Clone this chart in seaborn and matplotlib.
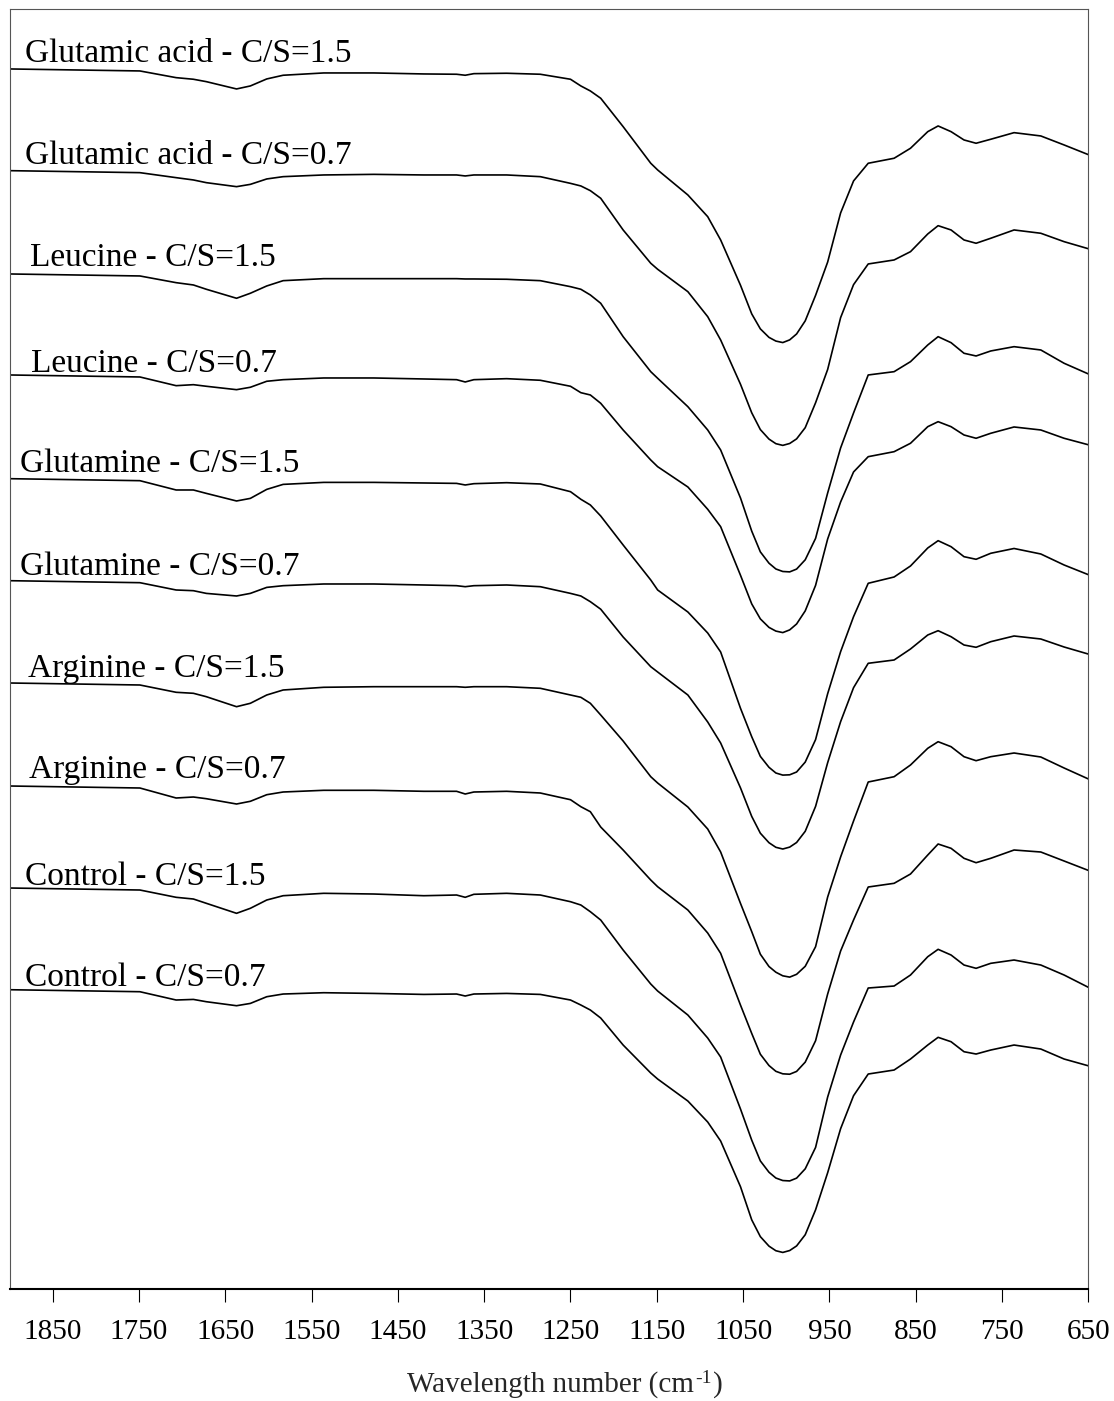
import numpy as np
import pandas as pd
import matplotlib
matplotlib.use("Agg")
import matplotlib.pyplot as plt
import seaborn as sns

# Wavenumber grid (cm-1) shared by all spectra
wavenumber = [1900, 1749, 1707, 1687, 1672, 1637, 1621, 1602, 1583, 1536, 1478, 1420,
              1382, 1372, 1362, 1324, 1285, 1250,
              1238, 1227, 1215, 1189, 1157, 1149, 1114, 1091, 1076,
              1053, 1040, 1030, 1020, 1012, 1004, 996, 988, 978, 966, 952, 937, 922,
              905, 875, 856, 836, 824, 809, 794, 780, 763, 736, 705, 678, 649]

samples = ["Glutamic acid - C/S=1.5", "Glutamic acid - C/S=0.7",
           "Leucine - C/S=1.5", "Leucine - C/S=0.7",
           "Glutamine - C/S=1.5", "Glutamine - C/S=0.7",
           "Arginine - C/S=1.5", "Arginine - C/S=0.7",
           "Control - C/S=1.5", "Control - C/S=0.7"]

# baseline level of each stacked spectrum (a.u.)
baseline = [1218.3, 1116.6, 1013.3, 912.3, 808.6, 706.6, 604.3, 501.3, 399.3, 297.6]

# absorption depth below the baseline (a.u.), one list per spectrum
glu_acid_15 = [-2, 0, 6.7, 8.3, 10.7, 18, 15, 8, 4.3, 2, 2, 3, 3.3, 4.3, 2.7, 2.3, 3.3, 8.3,
               15, 20, 27.3, 55.7, 92.3, 99, 124, 145.7, 169,
               214.3, 242.9, 257.9, 266.4, 270.1, 271.6, 268.9, 263, 249.9, 224.4, 191.1, 142, 110,
               92.3, 87.3, 77.3, 60.7, 55, 60.7, 69, 72.3, 68.3, 61.7, 65, 74, 84]
glu_acid_07 = [-2, 0, 5, 7.3, 10, 14, 11.7, 6.3, 4, 2.3, 1.7, 2.3, 2.3, 3.3, 2.3, 2.3, 4, 10.7,
               13.3, 18, 25.6, 57.3, 90.6, 96.6, 119, 144, 167.3,
               211.6, 240.1, 256.9, 266.4, 271, 272.7, 270.8, 266.2, 255, 230.1, 196.8, 145, 112,
               91.3, 87.3, 79, 61.3, 53, 57.3, 67.3, 70.6, 65.6, 57.3, 60.6, 69, 76.3]
leucine_15 = [-2, 0, 6.7, 9, 13.3, 22.3, 17.3, 10, 4.7, 2.7, 2.7, 2.7, 2.7, 3, 3, 3.3, 4.7, 10.7,
              13.3, 19, 27.3, 60.7, 95.7, 102.3, 130.7, 154, 174,
              222, 255.1, 275.9, 287.2, 293, 295.5, 295.9, 293.1, 283.8, 262.4, 217, 172, 137,
              99, 95.7, 85.7, 69, 60.7, 66.7, 77.3, 80, 75, 70.7, 74, 87.3, 98.3]
leucine_07 = [-2, 0, 8.7, 7.7, 9.3, 12.7, 10.3, 4.3, 2.7, 1, 1, 2, 2.7, 5, 2.7, 1.7, 3.3, 9.3,
              15.7, 18, 26.3, 53, 83, 89.7, 110, 132.3, 149.7,
              198.3, 226.9, 241.9, 250.4, 254.1, 255.6, 252.9, 247, 233.9, 208.4, 162, 125, 95,
              79.7, 74.7, 66.3, 49.7, 44.7, 49.7, 58, 61.3, 56.3, 50, 53, 61.3, 68]
glutamine_15 = [-2, 0, 9.3, 9.3, 12.7, 20.3, 17.7, 8.7, 3.7, 1.7, 1.7, 2.3, 2.7, 4.3, 3, 2, 3.3, 11,
                18.6, 24.3, 35.3, 64.3, 99.3, 109.3, 131.3, 152.3, 171.3,
                227.6, 256, 275.7, 286.6, 292.3, 294.4, 294.1, 291.3, 281.4, 258.9, 213, 171, 136,
                102.6, 96.3, 85.3, 67.3, 60, 66, 76, 78.6, 72.6, 67.8, 73.3, 84.3, 94.3]
glutamine_07 = [-2, 0, 7.3, 8, 10.7, 13.3, 10.7, 4.7, 3, 1.3, 1.3, 2.3, 3, 4, 3, 2.3, 4, 10.7,
                13.3, 19, 26.5, 54.3, 84, 89.3, 112.3, 139.3, 160.3,
                205.2, 233.7, 250.5, 260, 264.6, 266.3, 264.4, 259.8, 248.6, 223.7, 180, 139, 105,
                80.6, 77.3, 66.3, 52.3, 48, 54, 62.3, 64.6, 59, 53.3, 56.3, 64.3, 71.6]
arginine_15 = [-2, 0, 7.3, 8.3, 11.7, 21.7, 18.3, 10, 5, 2.3, 1.7, 1.7, 1.7, 2.3, 1.7, 1.7, 3.3, 10,
               12.3, 18.3, 30, 56, 91.7, 98, 122, 144, 167,
               218.4, 246.6, 269.2, 281.5, 287.2, 290.8, 292.1, 289.3, 281.3, 261.7, 212, 172, 136,
               97, 91.7, 80, 63.3, 56.7, 61.7, 71.7, 75.7, 71.7, 68, 72, 83, 94.3]
arginine_07 = [-2, 0, 10, 9, 10.7, 16, 13.3, 6.7, 4, 2.3, 2.3, 3.3, 3.3, 6, 4, 3.3, 5, 11.7,
               18.7, 23.7, 39, 62, 92, 98.7, 122, 145, 165.3,
               217.1, 245.4, 266.2, 277.5, 283.3, 285.8, 286.2, 283.4, 274.1, 252.7, 206, 163, 132,
               99, 95.3, 86, 67, 56, 60.3, 70.3, 74.7, 70.3, 62, 64, 73, 82.7]
control_15 = [-2, 0, 7.3, 9, 13.3, 23.3, 18.3, 10, 5.7, 3.3, 4, 5.7, 5, 7.3, 4.3, 3.3, 5, 11.7,
              15, 21.7, 30, 60, 94, 101, 125, 148, 167,
              219, 250.1, 270.9, 282.2, 288, 290.5, 290.9, 288.1, 278.8, 257.4, 207, 165, 132,
              98, 96, 85, 66.7, 59.3, 65, 75, 78.3, 73.3, 70, 75, 85, 97.7]
control_07 = [-2, 0, 8.3, 7.7, 10, 14, 11.7, 5, 2.3, 1, 1.7, 2.7, 2.3, 4.3, 2.3, 1.7, 2.7, 8.3,
              13.3, 18.3, 26.3, 53.3, 81.3, 87.3, 109.3, 130.3, 149.3,
              195, 228.1, 244.9, 254.4, 259, 260.7, 258.8, 254.2, 243, 218.1, 181, 137, 104,
              82.3, 78.3, 67.3, 53.3, 45.6, 50, 60, 62.3, 58.3, 53.3, 57.3, 67.3, 74.3]

depths = [glu_acid_15, glu_acid_07, leucine_15, leucine_07, glutamine_15, glutamine_07,
          arginine_15, arginine_07, control_15, control_07]

# long table for seaborn
rows = []
for name, base, d in zip(samples, baseline, depths):
    for w, v in zip(wavenumber, d):
        rows.append({"wavenumber": w, "signal": base - v, "sample": name})
df = pd.DataFrame(rows)

sns.set_style("white")
plt.rcParams["font.family"] = ["Liberation Serif", "DejaVu Serif"]

fig = plt.figure(figsize=(11.14, 14.01), dpi=100)
ax = fig.add_axes([0.0086, 0.0797, 0.9683, 0.9137])

sns.lineplot(data=df, x="wavenumber", y="signal", units="sample", estimator=None,
             color="black", linewidth=1.2, sort=False, ax=ax, legend=False)

# sample names above each spectrum
label_x = [1882, 1882, 1876, 1875, 1888, 1888, 1879, 1877, 1882, 1882]
label_y = [1227.3, 1125.3, 1023.3, 917.6, 817.6, 714.3, 612.6, 511, 404.3, 303.3]
for name, lx, ly in zip(samples, label_x, label_y):
    ax.text(lx, ly, name, fontsize=24, ha="left", va="baseline", color="black")

ax.set_xlim(1900, 650)
ax.set_ylim(0, 1280)
ax.set_xticks(np.arange(1850, 649, -100))
ax.set_yticks([])
ax.set_xlabel("")
ax.set_ylabel("")
ax.tick_params(axis="x", direction="out", length=9, width=0.8, labelsize=21, pad=12,
               bottom=True, colors="black")

for side in ["top", "left", "right"]:
    ax.spines[side].set_color("#555555")
    ax.spines[side].set_linewidth(0.8)
ax.spines["bottom"].set_color("black")
ax.spines["bottom"].set_linewidth(1.5)

# x label with a plain hyphen in the superscript: built from three pieces
renderer = fig.canvas.get_renderer()
fw, fh = fig.bbox.width, fig.bbox.height
y_base = (1401 - 1392) / 1401
main = fig.text(0, y_base, "Wavelength number (cm", fontsize=21, va="baseline")
sup = fig.text(0, y_base + 9 / fh, "-1", fontsize=14, va="baseline")
close = fig.text(0, y_base, ")", fontsize=21, va="baseline")
w_main = main.get_window_extent(renderer).width
w_sup = sup.get_window_extent(renderer).width
w_close = close.get_window_extent(renderer).width
x0 = 564 - (w_main + w_sup + w_close) / 2
main.set_x(x0 / fw)
sup.set_x((x0 + w_main + 1) / fw)
close.set_x((x0 + w_main + w_sup + 2) / fw)

fig.savefig("out.png", dpi=100)
